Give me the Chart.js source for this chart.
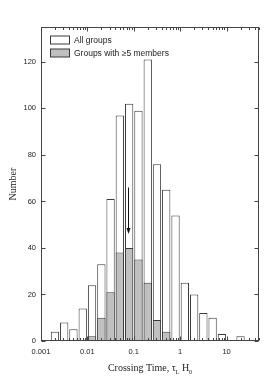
<!DOCTYPE html>
<html><head><meta charset="utf-8">
<script src="https://cdn.jsdelivr.net/npm/chart.js@4.4.1/dist/chart.umd.min.js"></script>
<style>html,body{margin:0;padding:0;background:#fff;overflow:hidden}</style>
</head><body>
<canvas id="c" width="273" height="392"></canvas>
<script>
// Bin centres (crossing time, log-spaced bins of 0.2 dex)
const binCenters = [0.002, 0.00316, 0.005, 0.00794, 0.0126, 0.02, 0.0316, 0.05, 0.0794, 0.126,
                    0.2, 0.316, 0.5, 0.794, 1.26, 2, 3.16, 5, 7.94, 12.6, 20];
const allGroups  = [4, 8, 5, 14, 24, 33, 61, 97, 102, 99, 121, 76, 65, 54, 25, 20, 12, 10, 3, 0, 2];
const bigGroups  = [null, null, null, null, 2, 10, 21, 38, 40, 35, 25, 9, 4, null, null, null, null, null, null, null, null];
const seriesNames = ['All groups', 'Groups with \u22655 members'];
const xTickValues = [0.001, 0.01, 0.1, 1, 10];
const xTickLabels = ['0.001', '0.01', '0.1', '1', '10'];
const yTickValues = [0, 20, 40, 60, 80, 100, 120];
const arrowX = 0.075, arrowFromY = 66, arrowToY = 46;

const INK = '#3a3a3a';
const GRAYFILL = '#c0c0c0';

const framePlugin = {
  id: 'frame',
  afterDatasetsDraw(chart) {
    const ctx = chart.ctx, a = chart.chartArea;
    const xs = chart.scales.x, ys = chart.scales.y;
    ctx.save();
    ctx.strokeStyle = '#444';
    ctx.lineWidth = 1;
    const L = Math.round(a.left) + 0.5, R = Math.round(a.right) - 0.5;
    const T = Math.round(a.top) + 0.5, B = Math.round(a.bottom) - 0.5;
    ctx.strokeRect(L, T, R - L, B - T);
    ctx.beginPath();
    const lo = Math.log10(xs.min), hi = Math.log10(xs.max);
    for (let d = Math.floor(lo); d <= Math.ceil(hi); d++) {
      for (let k = 1; k <= 9; k++) {
        const v = k * Math.pow(10, d);
        if (v < xs.min * 0.9999 || v > xs.max * 1.0001) continue;
        const px = Math.round(xs.getPixelForValue(v)) + 0.5;
        const len = k === 1 ? 4 : 2.5;
        ctx.moveTo(px, B); ctx.lineTo(px, B - len);
        ctx.moveTo(px, T); ctx.lineTo(px, T + len);
      }
    }
    yTickValues.forEach(v => {
      const py = Math.round(ys.getPixelForValue(v)) + 0.5;
      ctx.moveTo(L, py); ctx.lineTo(L + 4, py);
      ctx.moveTo(R, py); ctx.lineTo(R - 4, py);
    });
    ctx.stroke();
    ctx.restore();
  },
  afterDraw(chart) {
    const ctx = chart.ctx, a = chart.chartArea;
    const xs = chart.scales.x, ys = chart.scales.y;
    ctx.save();
    // Legend
    const bx = a.left + 9, bw = 19, bh = 8;
    const rows = [{fill: '#fff', text: seriesNames[0]}, {fill: GRAYFILL, text: seriesNames[1]}];
    ctx.font = '8.5px "Liberation Sans", Arial, sans-serif';
    ctx.textBaseline = 'middle';
    ctx.textAlign = 'left';
    rows.forEach((r, i) => {
      const by = a.top + 8.5 + i * 13;
      ctx.fillStyle = r.fill;
      ctx.fillRect(bx + 0.5, by + 0.5, bw, bh);
      ctx.strokeStyle = INK; ctx.lineWidth = 1;
      ctx.strokeRect(bx + 0.5, by + 0.5, bw, bh);
      ctx.fillStyle = '#222';
      ctx.fillText(r.text, bx + bw + 5, by + bh / 2 + 1);
    });
    // Arrow
    const ax = Math.round(xs.getPixelForValue(arrowX)) + 0.5;
    const y1 = ys.getPixelForValue(arrowFromY), y2 = ys.getPixelForValue(arrowToY);
    ctx.strokeStyle = '#111'; ctx.fillStyle = '#111'; ctx.lineWidth = 1;
    ctx.beginPath(); ctx.moveTo(ax, y1); ctx.lineTo(ax, y2 - 5); ctx.stroke();
    ctx.beginPath(); ctx.moveTo(ax - 2, y2 - 6); ctx.lineTo(ax + 2, y2 - 6); ctx.lineTo(ax, y2); ctx.closePath(); ctx.fill();
    // X axis title with subscripts
    const big = '10px "Liberation Serif", "Times New Roman", serif';
    const small = '6px "Liberation Serif", "Times New Roman", serif';
    const parts = [['Crossing Time, \u03c4', big, 0], ['L', small, 2.5], [' H', big, 0], ['0', small, 2.5]];
    let total = 0;
    parts.forEach(p => { ctx.font = p[1]; total += ctx.measureText(p[0]).width; });
    let x = (a.left + a.right) / 2 - total / 2;
    const base = a.bottom + 30;
    ctx.textBaseline = 'alphabetic';
    ctx.fillStyle = '#222';
    parts.forEach(p => { ctx.font = p[1]; ctx.fillText(p[0], x, base + p[2]); x += ctx.measureText(p[0]).width; });
    ctx.restore();
  }
};

new Chart(document.getElementById('c'), {
  type: 'bar',
  data: {
    datasets: [
      { label: seriesNames[1], data: binCenters.map((c, i) => ({x: c, y: bigGroups[i]})),
        backgroundColor: GRAYFILL, borderColor: INK, borderWidth: 1, grouped: false,
        categoryPercentage: 1, barPercentage: 0.9 },
      { label: seriesNames[0], data: binCenters.map((c, i) => ({x: c, y: allGroups[i]})),
        backgroundColor: '#fff', borderColor: INK, borderWidth: 1, grouped: false,
        categoryPercentage: 1, barPercentage: 0.9 }
    ]
  },
  options: {
    responsive: false,
    animation: false,
    devicePixelRatio: 1,
    layout: { padding: { top: 27, right: 14, left: 0, bottom: 0 } },
    plugins: { legend: { display: false }, tooltip: { enabled: false } },
    scales: {
      x: {
        type: 'logarithmic', min: 0.001, max: 50,
        grid: { display: false, drawTicks: false },
        border: { display: false },
        afterBuildTicks(s) { s.ticks = xTickValues.map(v => ({value: v})); },
        afterFit(s) { s.height = 51; },
        ticks: {
          autoSkip: false, maxRotation: 0, padding: 6, color: '#222',
          font: { family: '"Liberation Sans", Arial, sans-serif', size: 7.5 },
          callback(v) { const i = xTickValues.indexOf(v); return i >= 0 ? xTickLabels[i] : ''; }
        }
      },
      y: {
        min: 0, max: 135,
        grid: { display: false, drawTicks: false },
        border: { display: false },
        afterBuildTicks(s) { s.ticks = yTickValues.map(v => ({value: v})); },
        afterFit(s) { s.width = 41; },
        ticks: {
          padding: 5, color: '#222',
          font: { family: '"Liberation Sans", Arial, sans-serif', size: 7.5 }
        },
        title: {
          display: true, text: 'Number', color: '#222',
          padding: { top: 7, bottom: 0 },
          font: { family: '"Liberation Serif", "Times New Roman", serif', size: 10, weight: 'normal' }
        }
      }
    }
  },
  plugins: [framePlugin]
});
</script>
</body></html>
